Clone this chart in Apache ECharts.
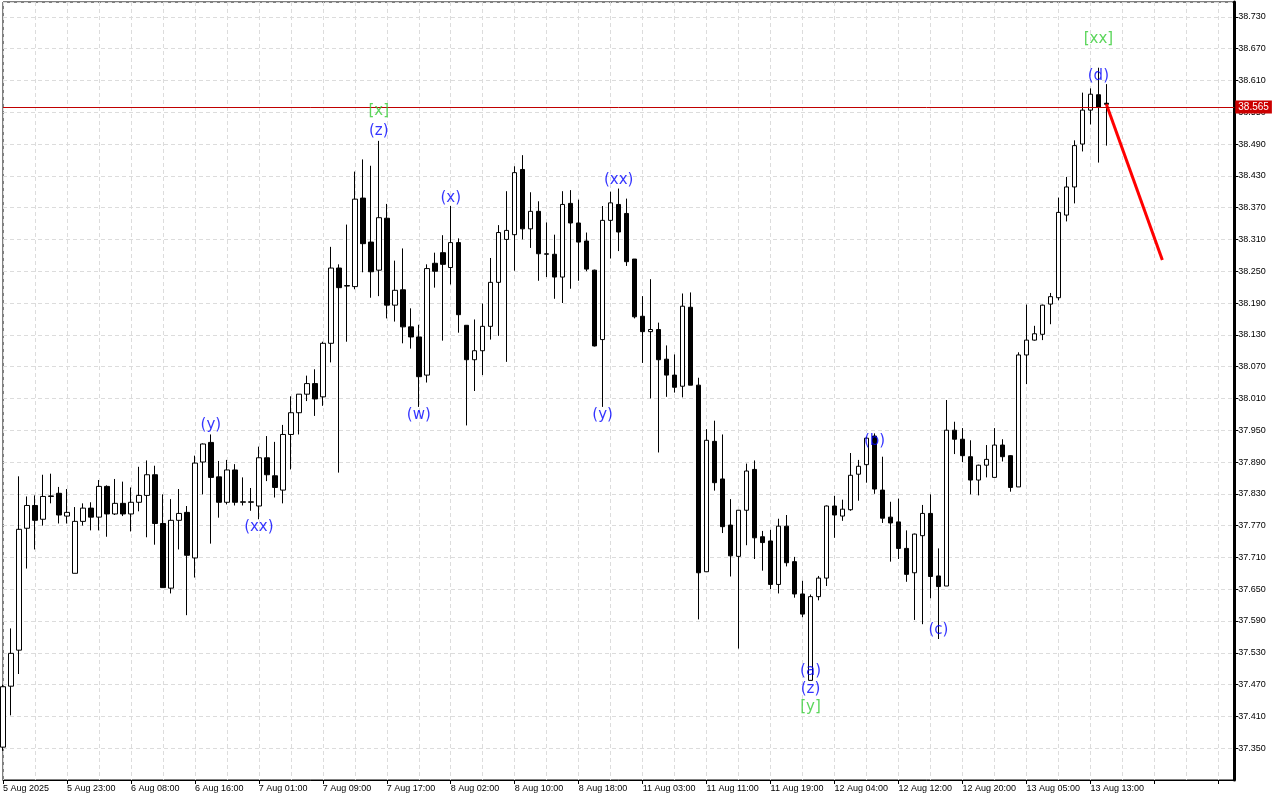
<!DOCTYPE html>
<html>
<head>
<meta charset="utf-8">
<script src="https://cdn.jsdelivr.net/npm/echarts@6/dist/echarts.min.js"></script>
<style>
html,body{margin:0;padding:0;background:#fff;}
#chart{width:1280px;height:800px;}
</style>
</head>
<body>
<div id="chart"></div>
<script>
// Hourly candles, index 0..138
const opens = [37.352,37.467,37.535,37.765,37.808,37.782,37.825,37.831,37.788,37.680,
37.778,37.803,37.786,37.844,37.792,37.812,37.792,37.814,37.827,37.866,
37.774,37.652,37.780,37.795,37.709,37.890,37.927,37.862,37.814,37.875,
37.814,37.814,37.807,37.898,37.864,37.837,37.942,37.983,38.018,38.038,
38.013,38.114,38.256,38.222,38.221,38.388,38.305,38.252,38.350,38.186,
38.215,38.145,38.126,38.054,38.265,38.285,38.257,38.304,38.148,38.083,
38.100,38.146,38.229,38.310,38.319,38.442,38.330,38.363,38.282,38.282,
38.239,38.378,38.341,38.307,38.252,38.121,38.346,38.376,38.359,38.273,
38.165,38.136,38.140,38.084,38.054,38.033,38.182,38.035,37.683,37.929,
37.858,37.771,37.712,37.799,37.876,37.749,37.741,37.659,37.769,37.702,
37.641,37.478,37.636,37.671,37.807,37.788,37.800,37.867,37.885,37.939,
37.837,37.786,37.777,37.727,37.681,37.751,37.793,37.675,37.656,37.950,
37.933,37.900,37.856,37.884,37.861,37.922,37.902,37.843,38.092,38.120,
38.131,38.188,38.200,38.356,38.409,38.490,38.554,38.583,38.567];
const closes = [37.466,37.529,37.763,37.808,37.780,37.825,37.826,37.790,37.795,37.778,
37.803,37.786,37.844,37.792,37.812,37.792,37.814,37.827,37.866,37.774,
37.653,37.780,37.793,37.714,37.888,37.924,37.861,37.814,37.875,37.814,
37.815,37.815,37.898,37.866,37.842,37.942,37.983,38.018,38.038,38.009,
38.114,38.256,38.219,38.223,38.386,38.302,38.249,38.351,38.186,38.214,
38.145,38.126,38.051,38.255,38.250,38.263,38.304,38.168,38.083,38.100,
38.146,38.229,38.323,38.327,38.436,38.330,38.363,38.283,38.283,38.239,
38.376,38.341,38.305,38.254,38.109,38.346,38.379,38.324,38.268,38.164,
38.136,38.140,38.083,38.054,38.031,38.184,38.035,37.681,37.931,37.851,
37.768,37.713,37.799,37.873,37.747,37.738,37.659,37.769,37.700,37.641,
37.603,37.636,37.671,37.807,37.790,37.801,37.865,37.882,37.935,37.839,
37.784,37.775,37.727,37.678,37.754,37.793,37.674,37.655,37.950,37.933,
37.902,37.856,37.884,37.895,37.922,37.900,37.842,38.092,38.120,38.132,
38.186,38.202,38.361,38.409,38.487,38.554,38.584,38.559,38.565];
const lows = [37.345,37.412,37.490,37.689,37.725,37.770,37.812,37.774,37.774,37.680,
37.770,37.761,37.761,37.749,37.790,37.788,37.759,37.797,37.748,37.734,
37.653,37.642,37.725,37.601,37.672,37.829,37.736,37.785,37.810,37.808,
37.808,37.798,37.782,37.854,37.823,37.812,37.876,37.942,38.005,37.977,
37.996,38.078,37.870,38.117,38.216,38.248,38.200,38.203,38.161,38.155,
38.114,38.104,37.994,38.040,38.219,38.119,38.225,38.134,37.959,38.024,
38.054,38.121,38.128,38.079,38.251,38.310,38.294,38.232,38.239,38.198,
38.190,38.217,38.232,38.250,38.108,37.994,38.274,38.288,38.260,38.161,
38.077,38.010,37.908,38.013,38.021,38.012,38.035,37.593,37.683,37.836,
37.756,37.674,37.538,37.733,37.707,37.685,37.650,37.642,37.693,37.634,
37.597,37.478,37.629,37.656,37.747,37.779,37.798,37.817,37.851,37.830,
37.775,37.702,37.707,37.664,37.592,37.584,37.633,37.556,37.656,37.905,
37.890,37.829,37.827,37.861,37.861,37.891,37.834,37.843,38.037,38.119,
38.120,38.150,38.195,38.344,38.378,38.476,38.527,38.455,38.487];
const highs = [37.470,37.576,37.863,37.825,37.827,37.866,37.868,37.843,37.839,37.805,
37.812,37.814,37.856,37.846,37.858,37.853,37.842,37.881,37.893,37.883,
37.829,37.820,37.839,37.807,37.902,37.925,37.942,37.892,37.894,37.886,
37.861,37.841,37.919,37.939,37.928,37.960,38.014,38.018,38.053,38.065,
38.117,38.296,38.263,38.338,38.438,38.461,38.449,38.496,38.377,38.270,
38.293,38.180,38.149,38.263,38.285,38.318,38.373,38.312,38.148,38.159,
38.189,38.275,38.337,38.401,38.448,38.469,38.399,38.382,38.342,38.319,
38.401,38.403,38.385,38.323,38.253,38.373,38.400,38.406,38.387,38.273,
38.203,38.235,38.153,38.110,38.093,38.208,38.210,38.049,37.952,37.968,
37.942,37.820,37.799,37.887,37.893,37.760,37.762,37.783,37.790,37.711,
37.666,37.640,37.675,37.808,37.826,37.819,37.907,37.894,37.937,37.944,
37.900,37.815,37.821,37.761,37.755,37.809,37.829,37.727,38.007,37.966,
37.954,37.931,37.885,37.922,37.954,37.933,37.903,38.097,38.187,38.147,
38.187,38.209,38.389,38.428,38.497,38.587,38.595,38.634,38.603];

// x-axis tick labels, one every 8 hourly bars
const tickLabels = ['5 Aug 2025','5 Aug 23:00','6 Aug 08:00','6 Aug 16:00','7 Aug 01:00',
'7 Aug 09:00','7 Aug 17:00','8 Aug 02:00','8 Aug 10:00','8 Aug 18:00','11 Aug 03:00',
'11 Aug 11:00','11 Aug 19:00','12 Aug 04:00','12 Aug 12:00','12 Aug 20:00',
'13 Aug 05:00','13 Aug 13:00'];
const totalSlots = 155;

const lastPrice = 38.565;
// projection line [barIndex, price]
const projection = [[138, 38.565], [145, 38.271]];

// wave labels [barIndex, price, text]
const blueLabels = [[26,37.960,'(y)'],[32,37.767,'(xx)'],[47,38.515,'(z)'],[56,38.388,'(x)'],
[52,37.979,'(w)'],[77,38.422,'(xx)'],[75,37.979,'(y)'],[109,37.930,'(b)'],[117,37.573,'(c)'],
[101,37.495,'(a)'],[101,37.461,'(z)'],[137,38.619,'(d)']];
const greenLabels = [[47,38.553,'[x]'],[101,37.427,'[y]'],[137,38.688,'[xx]']];

const categories = [];
for (let i = 0; i < totalSlots; i++) categories.push(String(i));
const ohlc = opens.map((o, i) => [o, closes[i], lows[i], highs[i]]);

const FONT = 'Liberation Sans';
const chart = echarts.init(document.getElementById('chart'), null, {renderer: 'canvas'});
const labelSeries = (arr, color) => ({
  type: 'scatter', symbolSize: 0, silent: true, z: 5,
  data: arr.map(d => ({value: [d[0], d[1]], name: d[2]})),
  label: {show: true, position: 'inside', formatter: '{b}', color: color,
          fontFamily: 'DejaVu Sans', fontSize: 15}
});

chart.setOption({
  animation: false,
  backgroundColor: '#fff',
  grid: {left: 2.3, right: 45.7, top: 2, bottom: 20, show: true, borderColor: '#000', borderWidth: 1},
  xAxis: {
    type: 'category', data: categories, boundaryGap: false,
    axisLine: {show: true, lineStyle: {color: '#000', width: 1}},
    axisTick: {show: true, interval: 7, length: 4, lineStyle: {color: '#000'}},
    axisLabel: {interval: 7, align: 'left', margin: 4, color: '#000', fontFamily: FONT, fontSize: 9,
      formatter: (v, i) => (i % 8 === 0 && tickLabels[i / 8]) ? tickLabels[i / 8] : ''},
    splitLine: {show: true, interval: 3, lineStyle: {color: '#dcdcdc', type: [4, 3]}}
  },
  yAxis: {
    type: 'value', position: 'right', min: 37.29, max: 38.758, interval: 0.06,
    axisLine: {show: true, lineStyle: {color: '#000', width: 3}},
    axisTick: {show: true, length: 4, lineStyle: {color: '#000'}},
    axisLabel: {showMinLabel: false, showMaxLabel: false, margin: 4, color: '#000',
      fontFamily: FONT, fontSize: 9, formatter: v => v.toFixed(3)},
    splitLine: {show: true, lineStyle: {color: '#dcdcdc', type: [4, 3]}}
  },
  series: [
    {
      type: 'candlestick', data: ohlc, barWidth: 5, clip: true,
      itemStyle: {color: '#fff', color0: '#000', borderColor: '#000', borderColor0: '#000', borderWidth: 1}
    },
    {
      type: 'line', data: projection, symbol: 'none', silent: true, z: 4,
      lineStyle: {color: '#ff0000', width: 3},
      markLine: {
        silent: true, symbol: 'none', animation: false,
        data: [{yAxis: lastPrice}],
        lineStyle: {color: '#c00000', width: 1, type: 'solid'},
        label: {show: true, position: 'end', distance: 1, formatter: lastPrice.toFixed(3),
          backgroundColor: '#cc0000', color: '#fff', padding: [2, 3, 1, 3], fontFamily: FONT, fontSize: 10}
      }
    },
    labelSeries(blueLabels, '#0000ff'),
    labelSeries(greenLabels, '#33cc33')
  ]
});
</script>
</body>
</html>
